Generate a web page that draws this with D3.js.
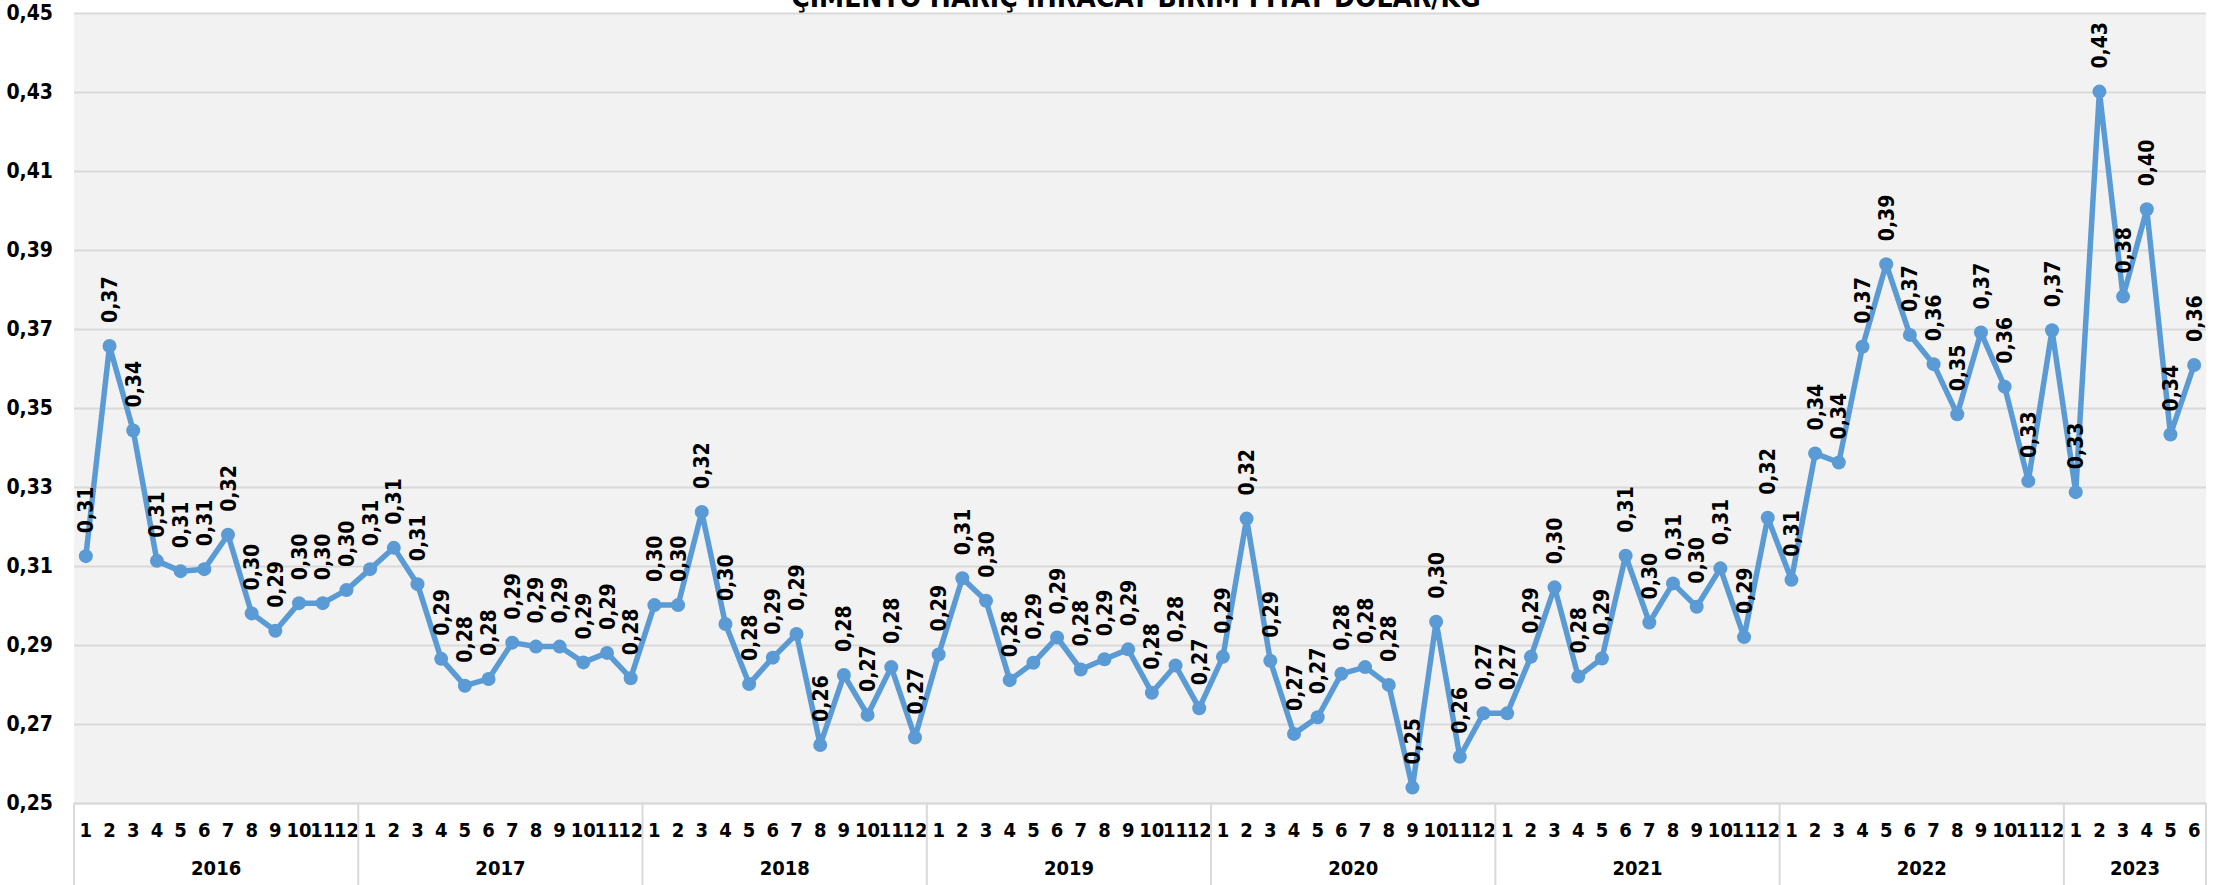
<!DOCTYPE html>
<html>
<head>
<meta charset="utf-8">
<script src="https://cdn.jsdelivr.net/npm/d3@7"></script>
<style>
  body { margin: 0; background: #fff; }
  text { font-family: "Liberation Sans Narrow", "Arial Narrow", "DejaVu Sans Condensed", sans-serif; font-weight: bold; fill: #000; }
</style>
</head>
<body>
<script>
var width = 2224,
  height = 885;

// values (USD/kg), one array per year, months 1..12
const years = [2016, 2017, 2018, 2019, 2020, 2021, 2022, 2023];
const v2016 = [0.3125, 0.3657, 0.3443, 0.3113, 0.3087, 0.3092, 0.3179, 0.298, 0.2936, 0.3006, 0.3006, 0.3039];
const v2017 = [0.3092, 0.3146, 0.3054, 0.2865, 0.2797, 0.2814, 0.2906, 0.2896, 0.2896, 0.2856, 0.288, 0.2816];
const v2018 = [0.3001, 0.3001, 0.3237, 0.2953, 0.2801, 0.2868, 0.2928, 0.2647, 0.2824, 0.2723, 0.2844, 0.2666];
const v2019 = [0.2876, 0.3069, 0.3012, 0.2811, 0.2855, 0.2919, 0.2838, 0.2864, 0.2889, 0.2779, 0.2848, 0.274];
const v2020 = [0.287, 0.322, 0.286, 0.2675, 0.2717, 0.2827, 0.2844, 0.2799, 0.2539, 0.2959, 0.2617, 0.2727];
const v2021 = [0.2727, 0.287, 0.3046, 0.282, 0.2866, 0.3126, 0.2957, 0.3056, 0.2997, 0.3094, 0.292, 0.3222];
const v2022 = [0.3065, 0.3385, 0.3362, 0.3655, 0.3864, 0.3685, 0.3611, 0.3484, 0.3691, 0.3554, 0.3315, 0.3697];
const v2023 = [0.3287, 0.4301, 0.3782, 0.4003, 0.3433, 0.3609];
const yTicks = [0.25, 0.27, 0.29, 0.31, 0.33, 0.35, 0.37, 0.39, 0.41, 0.43, 0.45];
const title = "ÇİMENTO HARİÇ İHRACAT BİRİM FİYAT DOLAR/KG";

const byYear = [v2016, v2017, v2018, v2019, v2020, v2021, v2022, v2023];
var data = [];
byYear.forEach(function (vals, i) {
  vals.forEach(function (v, m) {
    data.push({ year: years[i], month: m + 1, key: years[i] + "-" + (m + 1), value: v });
  });
});

const margin = { top: 13, right: 18, bottom: 82, left: 74 };
const plotW = width - margin.left - margin.right,
  plotH = height - margin.top - margin.bottom;

const comma = function (v) { return d3.format(".2f")(v).replace(".", ","); };

const svg = d3.select("body").append("svg").attr("width", width).attr("height", height);

const x = d3.scaleBand().domain(data.map(d => d.key)).range([margin.left, width - margin.right]).padding(0);
const y = d3.scaleLinear().domain([0.25, 0.45]).range([height - margin.bottom, margin.top]);

// title, mostly cut off at the top edge as in the original
svg.append("text")
  .attr("x", 1136).attr("y", 7)
  .attr("text-anchor", "middle")
  .attr("font-size", 28)
  .text(title);

svg.append("rect")
  .attr("x", margin.left).attr("y", margin.top)
  .attr("width", plotW).attr("height", plotH)
  .attr("fill", "#f2f2f2");

// gridlines + y labels
const yAxis = svg.append("g")
  .attr("transform", "translate(" + margin.left + ",0)")
  .call(d3.axisLeft(y).tickValues(yTicks).tickSize(-plotW).tickPadding(21).tickFormat(comma));
yAxis.select(".domain").remove();
yAxis.selectAll(".tick line").attr("stroke", "#d9d9d9").attr("stroke-width", 2);
yAxis.selectAll(".tick text").attr("font-size", 21).attr("fill", "#000");

// month labels
const xAxis = svg.append("g")
  .attr("transform", "translate(0," + (height - margin.bottom) + ")")
  .call(d3.axisBottom(x).tickSize(0).tickPadding(20).tickFormat(k => k.split("-")[1]));
xAxis.select(".domain").attr("stroke", "#d9d9d9").attr("stroke-width", 2);
xAxis.selectAll(".tick text").attr("font-size", 20).attr("fill", "#000");

// year groups: separators and labels
const groups = years.map(function (yr) {
  const ks = data.filter(d => d.year === yr).map(d => d.key);
  return { year: yr, x0: x(ks[0]), x1: x(ks[ks.length - 1]) + x.bandwidth() };
});
const sepX = [groups[0].x0].concat(groups.map(g => g.x1));
svg.append("g").selectAll("line").data(sepX).enter().append("line")
  .attr("x1", d => d).attr("x2", d => d)
  .attr("y1", height - margin.bottom).attr("y2", height)
  .attr("stroke", "#d9d9d9").attr("stroke-width", 2);
svg.append("g").selectAll("text").data(groups).enter().append("text")
  .attr("x", d => (d.x0 + d.x1) / 2).attr("y", 875)
  .attr("text-anchor", "middle").attr("font-size", 20)
  .text(d => d.year);

// series
const cx = d => x(d.key) + x.bandwidth() / 2;
const line = d3.line().x(cx).y(d => y(d.value));
svg.append("path").datum(data)
  .attr("d", line).attr("fill", "none")
  .attr("stroke", "#5b9bd5").attr("stroke-width", 5.5).attr("stroke-linejoin", "round");
svg.append("g").selectAll("circle").data(data).enter().append("circle")
  .attr("cx", cx).attr("cy", d => y(d.value)).attr("r", 7)
  .attr("fill", "#5b9bd5");

// data labels, rotated, above each point
svg.append("g").selectAll("text").data(data).enter().append("text")
  .attr("transform", d => "translate(" + cx(d) + "," + (y(d.value) - 23) + ") rotate(-90)")
  .attr("dy", "0.36em")
  .attr("font-size", 21)
  .text(d => comma(d.value));
</script>
</body>
</html>
